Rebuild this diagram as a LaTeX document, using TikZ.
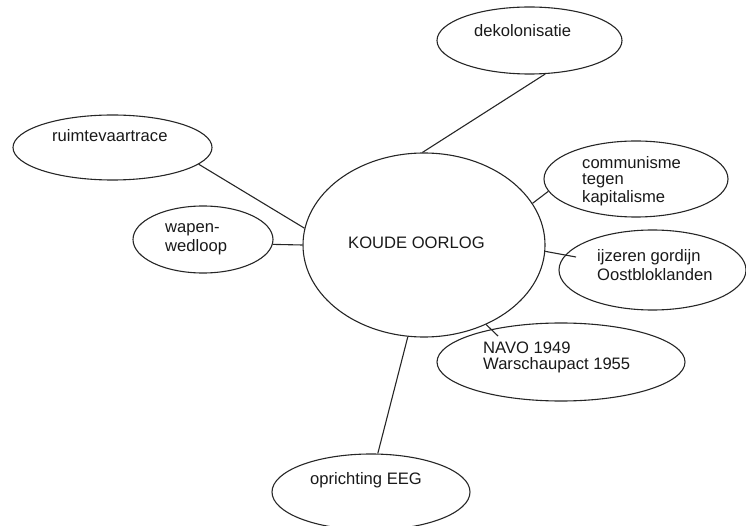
\documentclass[tikz,border=0pt]{standalone}
\usepackage{fontspec}
\setmainfont{Liberation Sans}
\usetikzlibrary{shapes.geometric}
\newcommand{\mlines}[1]{\begin{tabular}[t]{@{}l@{}}#1\end{tabular}}
\tikzset{
  bub/.style={draw=black!85, line width=1.1pt, ellipse, inner sep=0pt},
  lbl/.style={anchor=base west, inner sep=0pt, text=black!90, font=\fontsize{16.6}{16.7}\selectfont},
  link/.style={draw=black!85, line width=1.1pt},
}
\begin{document}
\begin{tikzpicture}[x=1pt,y=-1pt]
\useasboundingbox (0,0) rectangle (746,526);
% ellipses
\node[bub, minimum width=242pt, minimum height=184pt] (koude) at (424,245) {};
\node[bub, minimum width=185pt, minimum height=67pt] (dek) at (529.5,40.5) {};
\node[bub, minimum width=199pt, minimum height=65pt] (ruimte) at (112.5,147.5) {};
\node[bub, minimum width=140pt, minimum height=67pt] (wapen) at (203,239.5) {};
\node[bub, minimum width=184pt, minimum height=76pt] (comm) at (636,179) {};
\node[bub, minimum width=187pt, minimum height=80pt] (ijz) at (652.5,270) {};
\node[bub, minimum width=248pt, minimum height=78pt] (navo) at (561,362) {};
\node[bub, minimum width=198pt, minimum height=76pt] (eeg) at (371,492) {};
% texts
\node[lbl] (tkoude) at (348,249) {KOUDE OORLOG};
\node[lbl] (tdek) at (474,37) {dekolonisatie};
\node[lbl] (truimte) at (52,142) {ruimtevaartrace};
\node[lbl, font=\fontsize{16.6}{18.5}\selectfont] (twapen) at (165,233) {\mlines{wapen-\\wedloop}};
\node[lbl] (tcomm) at (582,168.3) {\mlines{communisme\\tegen\\kapitalisme}};
\node[lbl, font=\fontsize{16.6}{18}\selectfont] (tijz) at (597,262) {\mlines{ijzeren gordijn\\Oostbloklanden}};
\node[lbl, font=\fontsize{16.6}{16}\selectfont] (tnavo) at (483,353) {\mlines{NAVO 1949\\Warschaupact 1955}};
\node[lbl] (teeg) at (310,484) {oprichting EEG};
% free ends inside ellipses
\coordinate (ijzin) at (576,257);
\coordinate (navoin) at (498,336);
% connectors
\draw[link] (koude.91) -- (dek.-65);
\draw[link] (koude.172) -- (ruimte.-11);
\draw[link] (koude.180) -- (wapen.-4);
\draw[link] (koude.21) -- (comm.188);
\draw[link] (koude.-3) -- (ijzin);
\draw[link] (koude.-52) -- (navoin);
\draw[link] (koude.-100) -- (eeg.80);
\end{tikzpicture}
\end{document}
